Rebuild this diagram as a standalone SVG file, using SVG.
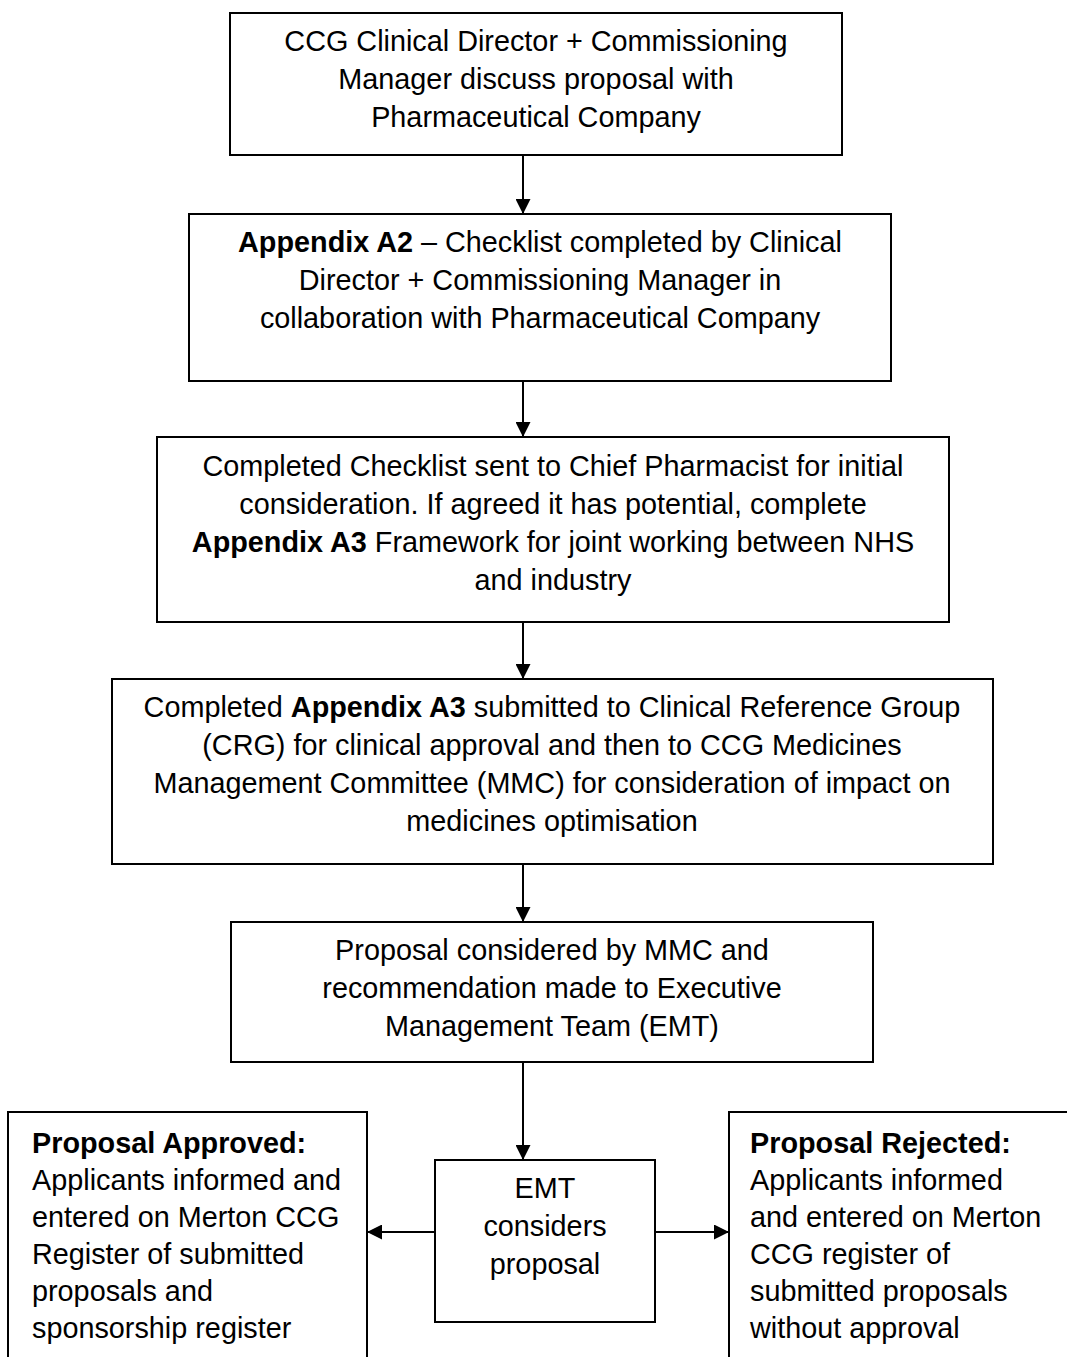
<svg xmlns="http://www.w3.org/2000/svg" width="1067" height="1357" viewBox="0 0 1067 1357">
<style>
.box{fill:#fff;stroke:#000;stroke-width:2}
.t{font-family:"Liberation Sans",Arial,sans-serif;font-size:28.8px;fill:#000}
.c{text-anchor:middle}
.b{font-weight:bold}
.ln{stroke:#000;stroke-width:2;fill:none}
</style>
<defs>
<marker id="ah" viewBox="0 0 15 15" refX="15" refY="7.5" markerWidth="15" markerHeight="15" markerUnits="userSpaceOnUse" orient="auto">
<path d="M0,0 L15,7.5 L0,15 z" fill="#000"/>
</marker>
</defs>
<rect width="1067" height="1357" fill="#fff"/>
<g id="connectors">
<line class="ln" x1="523" y1="155" x2="523" y2="214" marker-end="url(#ah)"/>
<line class="ln" x1="523" y1="381" x2="523" y2="437" marker-end="url(#ah)"/>
<line class="ln" x1="523" y1="622" x2="523" y2="679" marker-end="url(#ah)"/>
<line class="ln" x1="523" y1="864" x2="523" y2="922" marker-end="url(#ah)"/>
<line class="ln" x1="523" y1="1062" x2="523" y2="1160" marker-end="url(#ah)"/>
<line class="ln" x1="435" y1="1232" x2="367" y2="1232" marker-end="url(#ah)"/>
<line class="ln" x1="655" y1="1232" x2="729" y2="1232" marker-end="url(#ah)"/>
</g>
<g id="n1">
<rect class="box" x="230" y="13" width="612" height="142"/>
<text class="t c" x="536" y="51">CCG Clinical Director + Commissioning</text>
<text class="t c" x="536" y="89">Manager discuss proposal with</text>
<text class="t c" x="536" y="127">Pharmaceutical Company</text>
</g>
<g id="n2">
<rect class="box" x="189" y="214" width="702" height="167"/>
<text class="t c" x="540" y="252"><tspan class="b">Appendix A2</tspan> – Checklist completed by Clinical</text>
<text class="t c" x="540" y="290">Director + Commissioning Manager in</text>
<text class="t c" x="540" y="328">collaboration with Pharmaceutical Company</text>
</g>
<g id="n3">
<rect class="box" x="157" y="437" width="792" height="185"/>
<text class="t c" x="553" y="476">Completed Checklist sent to Chief Pharmacist for initial</text>
<text class="t c" x="553" y="514">consideration. If agreed it has potential, complete</text>
<text class="t c" x="553" y="552"><tspan class="b">Appendix A3</tspan> Framework for joint working between NHS</text>
<text class="t c" x="553" y="590">and industry</text>
</g>
<g id="n4">
<rect class="box" x="112" y="679" width="881" height="185"/>
<text class="t c" x="552" y="717">Completed <tspan class="b">Appendix A3</tspan> submitted to Clinical Reference Group</text>
<text class="t c" x="552" y="755">(CRG) for clinical approval and then to CCG Medicines</text>
<text class="t c" x="552" y="793">Management Committee (MMC) for consideration of impact on</text>
<text class="t c" x="552" y="831">medicines optimisation</text>
</g>
<g id="n5">
<rect class="box" x="231" y="922" width="642" height="140"/>
<text class="t c" x="552" y="960">Proposal considered by MMC and</text>
<text class="t c" x="552" y="998">recommendation made to Executive</text>
<text class="t c" x="552" y="1036">Management Team (EMT)</text>
</g>
<g id="n6">
<rect class="box" x="435" y="1160" width="220" height="162"/>
<text class="t c" x="545" y="1198">EMT</text>
<text class="t c" x="545" y="1236">considers</text>
<text class="t c" x="545" y="1274">proposal</text>
</g>
<g id="n7">
<path class="ln" d="M8,1360 V1112 H367 V1360"/>
<text class="t b" x="32" y="1153">Proposal Approved:</text>
<text class="t" x="32" y="1190">Applicants informed and</text>
<text class="t" x="32" y="1227">entered on Merton CCG</text>
<text class="t" x="32" y="1264">Register of submitted</text>
<text class="t" x="32" y="1301">proposals and</text>
<text class="t" x="32" y="1338">sponsorship register</text>
</g>
<g id="n8">
<path class="ln" d="M729,1360 V1112 H1070"/>
<text class="t b" x="750" y="1153">Proposal Rejected:</text>
<text class="t" x="750" y="1190">Applicants informed</text>
<text class="t" x="750" y="1227">and entered on Merton</text>
<text class="t" x="750" y="1264">CCG register of</text>
<text class="t" x="750" y="1301">submitted proposals</text>
<text class="t" x="750" y="1338">without approval</text>
</g>
</svg>
